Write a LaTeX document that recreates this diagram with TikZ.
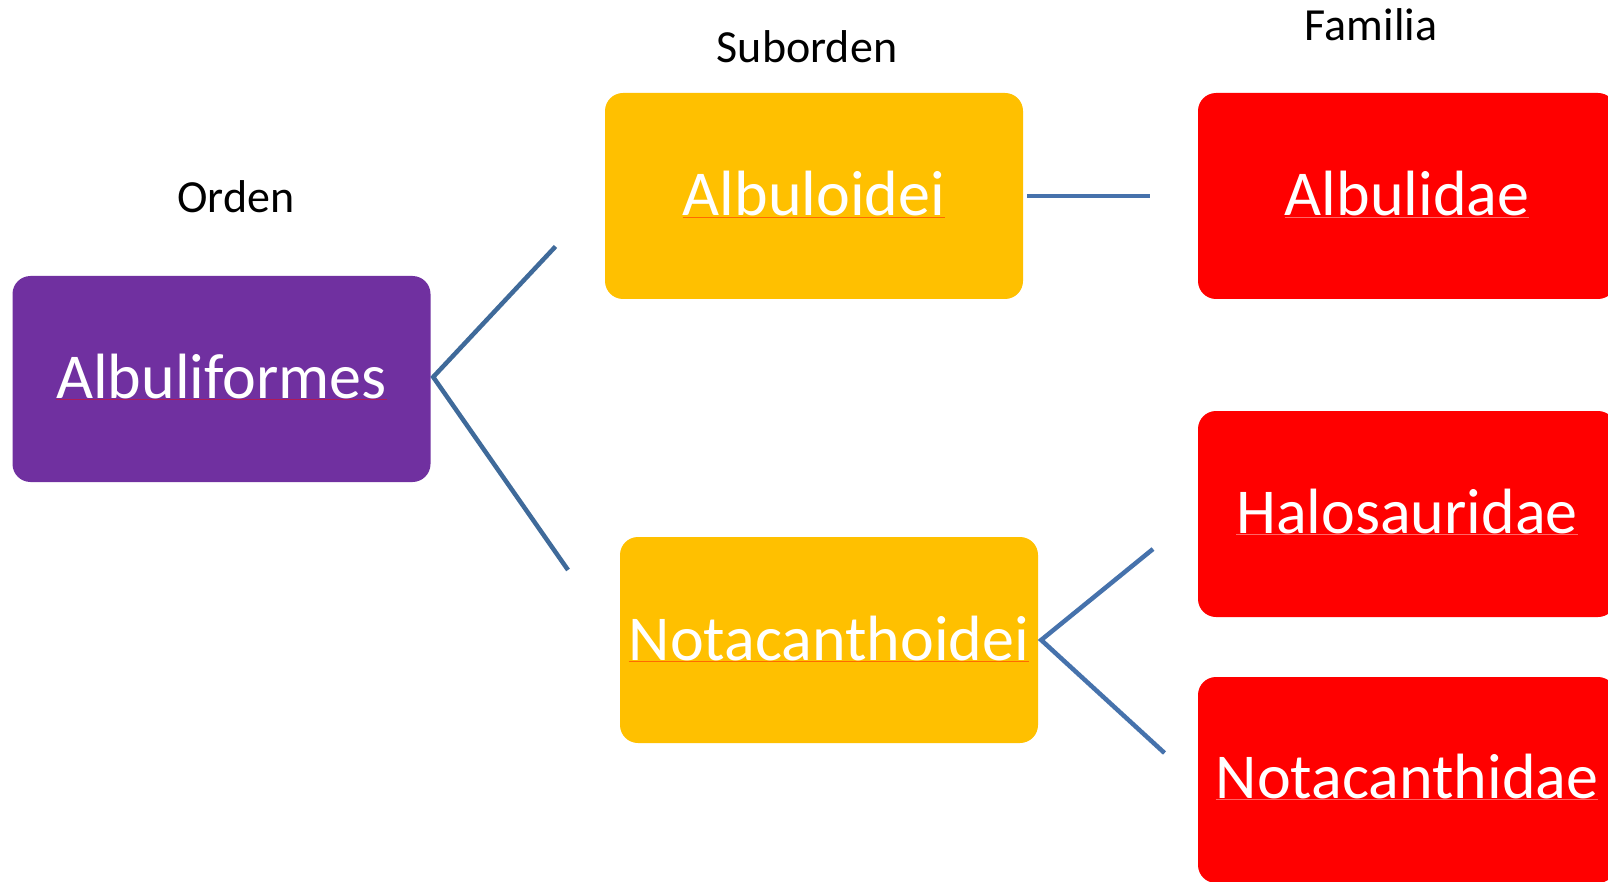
\documentclass[tikz,border=0pt]{standalone}
\usepackage{fontspec}
\setmainfont{Carlito}
\begin{document}
\begin{tikzpicture}[x=1pt,y=-1pt,
  box/.style={rounded corners=18pt, inner sep=0pt, minimum width=418pt, minimum height=206pt, draw=none},
  order/.style={box, fill=ordercol},
  subord/.style={box, fill=subcol},
  family/.style={box, fill=famcol},
  boxtext/.style={inner sep=0pt, text=white, font=\fontsize{64}{70}\selectfont, anchor=base},
  rank/.style={inner sep=0pt, text=black, font=\fontsize{46}{52}\selectfont, anchor=base},
  uline/.style={line width=0.8pt},
  link/.style={line width=4.5pt, draw=linkcol},
  linkb/.style={line width=4.5pt, draw=linkcolb}]
\definecolor{ordercol}{HTML}{7030A0}
\definecolor{subcol}{HTML}{FFC000}
\definecolor{famcol}{HTML}{FF0000}
\definecolor{linkcol}{HTML}{3F6A9A}
\definecolor{linkcolb}{HTML}{4672AC}
\useasboundingbox (0,0) rectangle (1608,882);
\clip (0,0) rectangle (1608,882);
\fill[white] (0,0) rectangle (1608,882);

% rank headings
\node[rank] (hOrden) at (236,213) {Orden};
\node[rank] (hSub) at (807,63) {Suborden};
\node[rank] (hFam) at (1371,41) {Familia};

% boxes
\node[order]  (alf) at (221.5,379) {};
\node[subord] (alo) at (814,196) {};
\node[subord] (not) at (829,640) {};
\node[family] (ali) at (1407,196) {};
\node[family] (hal) at (1407,514) {};
\node[family] (nti) at (1407,780) {};

% box labels, baseline about 20pt below the box centre
\node[boxtext] (talf) at ([yshift=-19pt]alf.center) {Albuliformes};
\node[boxtext] (talo) at ([yshift=-20pt]alo.center) {Albuloidei};
\node[boxtext] (tnot) at ([yshift=-20pt]not.center) {Notacanthoidei};
\node[boxtext] (tali) at ([yshift=-20pt]ali.center) {Albulidae};
\node[boxtext] (thal) at ([yshift=-19pt]hal.center) {Halosauridae};
\node[boxtext] (tnti) at ([yshift=-18pt]nti.center) {Notacanthidae};

% faint spelling underlines
\draw[uline, draw=red!45!ordercol] ([yshift=-1pt]talf.base west) -- ([yshift=-1pt]talf.base east);
\draw[uline, draw=red!45!subcol] ([yshift=-1pt]talo.base west) -- ([yshift=-1pt]talo.base east);
\draw[uline, draw=red!45!subcol] ([yshift=-1pt]tnot.base west) -- ([yshift=-1pt]tnot.base east);
\draw[uline, draw=red!60!white] ([yshift=-1pt]tali.base west) -- ([yshift=-1pt]tali.base east);
\draw[uline, draw=red!60!white] ([yshift=-1pt]thal.base west) -- ([yshift=-1pt]thal.base east);
\draw[uline, draw=red!60!white] ([yshift=-1pt]tnti.base west) -- ([yshift=-1pt]tnti.base east);

% connector ends
\coordinate (alfUp) at (555.5,246.5);
\coordinate (alfDn) at (568,570);
\coordinate (aloEnd) at (1150,196);
\coordinate (notUp) at (1153,549);
\coordinate (notDn) at (1164.5,753);

% connectors
\draw[link] (alfUp) -- ([xshift=2.5pt,yshift=2pt]alf.east) -- (alfDn);
\draw[linkb] ([xshift=4pt]alo.east) -- (aloEnd);
\draw[linkb] (notUp) -- ([xshift=3pt]not.east) -- (notDn);
\end{tikzpicture}
\end{document}
